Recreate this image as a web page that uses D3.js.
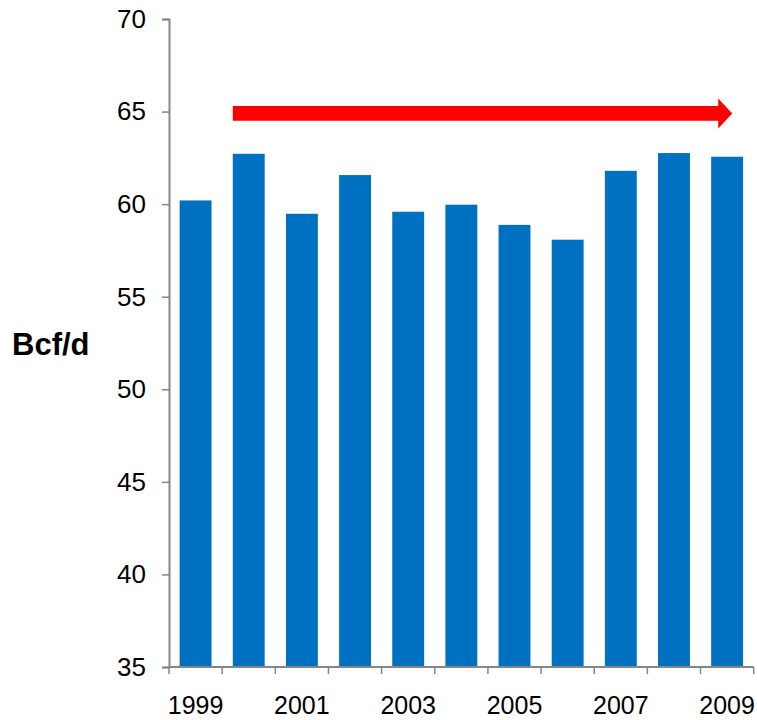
<!DOCTYPE html>
<html>
<head>
<meta charset="utf-8">
<script src="https://cdn.jsdelivr.net/npm/d3@7/dist/d3.min.js"></script>
<style>
  html, body { margin: 0; padding: 0; background: #fff; }
  svg { display: block; font-family: "Liberation Sans", Arial, sans-serif; }
</style>
</head>
<body>
<svg id="chart" width="757" height="720"></svg>
<script>
// Annual values, Bcf/d
const years = ["1999", "2000", "2001", "2002", "2003", "2004", "2005", "2006", "2007", "2008", "2009"];
const values = [60.2, 62.72, 59.48, 61.57, 59.59, 59.97, 58.88, 58.08, 61.8, 62.76, 62.56];
const yTicks = [35, 40, 45, 50, 55, 60, 65, 70];
const xLabels = ["1999", "2001", "2003", "2005", "2007", "2009"];
const yDomain = [35, 70];
const axisTitle = "Bcf/d";
// Trend arrow spanning 2000 to 2009 at this level
const arrowFrom = "2000";
const arrowTo = "2009";
const arrowLevel = 64.9;

(function () {
const svg = d3.select("#chart");
const plotLeft = 169, plotRight = 753.7, plotTop = 19, plotBottom = 667;

const x = d3.scaleBand().domain(years).range([plotLeft, plotRight]).paddingInner(0.4).paddingOuter(0.2);
const y = d3.scaleLinear().domain(yDomain).range([plotBottom, plotTop]);
const axisColor = "#868686";

// Bars
svg.append("g").selectAll("rect")
  .data(years.map((yr, i) => ({ yr, v: values[i] })))
  .join("rect")
  .attr("x", d => x(d.yr))
  .attr("width", x.bandwidth())
  .attr("y", d => y(d.v))
  .attr("height", d => y(yDomain[0]) - y(d.v))
  .attr("fill", "#0070C0");

// Y axis
const yAxis = svg.append("g")
  .attr("transform", `translate(${plotLeft},0)`)
  .call(d3.axisLeft(y).tickValues(yTicks).tickSize(7).tickPadding(16).tickFormat(d3.format("d")));
yAxis.select(".domain").attr("stroke", axisColor).attr("stroke-width", 2);
yAxis.selectAll(".tick line").attr("stroke", axisColor).attr("stroke-width", 1.5);
yAxis.selectAll(".tick text")
  .attr("fill", "#000")
  .style("font-size", "26px")
  .style("font-family", "Liberation Sans, Arial, sans-serif");

// X axis: line plus ticks on category boundaries
const step = x.step();
const x0 = x(years[0]) - x.paddingOuter() * step;
const bounds = d3.range(years.length + 1).map(i => x0 + i * step);
const xAxis = svg.append("g");
xAxis.append("line")
  .attr("x1", plotLeft).attr("x2", bounds[bounds.length - 1])
  .attr("y1", plotBottom).attr("y2", plotBottom)
  .attr("stroke", axisColor).attr("stroke-width", 2);
xAxis.selectAll("line.tick")
  .data(bounds)
  .join("line")
  .attr("class", "tick")
  .attr("x1", d => d).attr("x2", d => d)
  .attr("y1", plotBottom).attr("y2", plotBottom + 7)
  .attr("stroke", axisColor).attr("stroke-width", 1.5);
xAxis.selectAll("text")
  .data(xLabels)
  .join("text")
  .attr("x", d => x(d) + x.bandwidth() / 2)
  .attr("y", 714)
  .attr("text-anchor", "middle")
  .attr("fill", "#000")
  .style("font-size", "25px")
  .text(d => d);

// Axis title
svg.append("text")
  .attr("x", 12)
  .attr("y", 355)
  .attr("font-weight", "bold")
  .attr("fill", "#000")
  .style("font-size", "31px")
  .text(axisTitle);

// Red trend arrow
const ay = y(arrowLevel);
const ax1 = x(arrowFrom);
const axTip = x(arrowTo) + x.bandwidth() * 0.66;
const headLen = 14, headHalf = 15, shaftHalf = 7.3;
const arrowPath = d3.path();
arrowPath.moveTo(ax1, ay - shaftHalf);
arrowPath.lineTo(axTip - headLen, ay - shaftHalf);
arrowPath.lineTo(axTip - headLen, ay - headHalf);
arrowPath.lineTo(axTip, ay);
arrowPath.lineTo(axTip - headLen, ay + headHalf);
arrowPath.lineTo(axTip - headLen, ay + shaftHalf);
arrowPath.lineTo(ax1, ay + shaftHalf);
arrowPath.closePath();
svg.append("path").attr("d", arrowPath.toString()).attr("fill", "#FF0000");
})();
</script>
</body>
</html>
